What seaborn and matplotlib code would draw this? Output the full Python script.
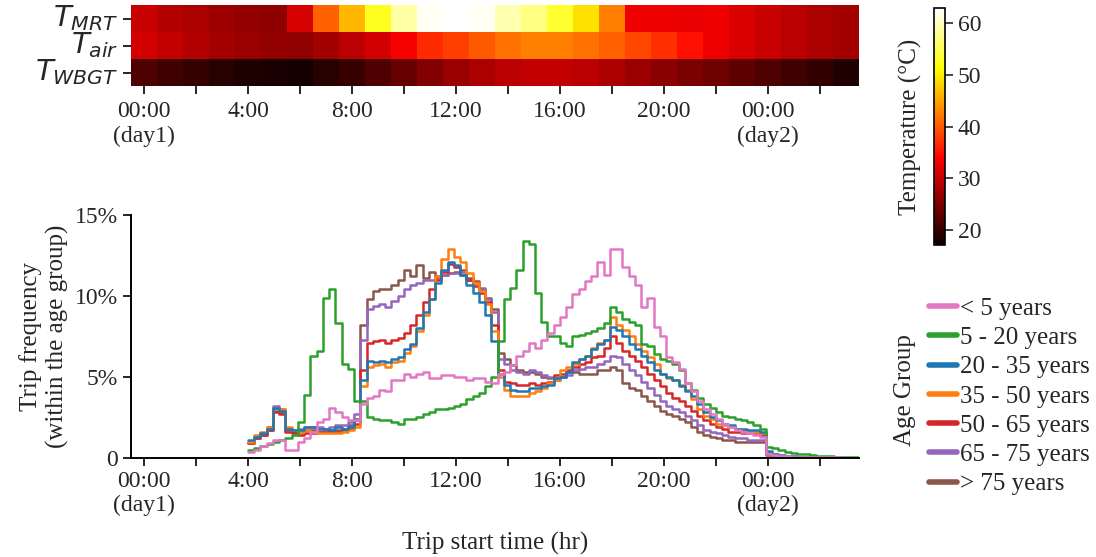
import numpy as np
import pandas as pd
import matplotlib
matplotlib.use("Agg")
import matplotlib.pyplot as plt
from matplotlib.lines import Line2D
import seaborn as sns

# ---------------- data ----------------
hours = list(range(28))
row_labels = [r"$T_{MRT}$", r"$T_{air}$", r"$T_{WBGT}$"]
t_mrt = [30.1, 28.6, 28.1, 27.1, 26.4, 26.1, 31.0, 40.4, 46.4, 52.7, 58.7, 62.3, 63.0, 62.3,
         59.4, 57.2, 53.5, 49.2, 42.5, 32.8, 32.8, 32.3, 32.8, 31.2, 30.1, 29.1, 28.1, 27.6]
t_air = [30.8, 29.6, 28.6, 27.6, 27.0, 26.4, 26.2, 27.6, 29.1, 30.8, 33.3, 36.6, 38.2, 39.9,
         41.5, 42.6, 42.6, 41.5, 40.4, 38.7, 37.1, 34.9, 32.8, 31.2, 30.1, 29.1, 28.1, 27.6]
t_wbgt = [21.7, 20.7, 19.9, 19.1, 18.3, 18.1, 17.8, 19.1, 20.2, 21.7, 23.3, 25.4, 27.0, 28.1,
          29.1, 29.6, 29.6, 29.1, 28.1, 27.0, 25.9, 24.9, 23.9, 22.8, 21.7, 20.7, 19.7, 18.5]
cbar_ticks = [20, 30, 40, 50, 60]

age_groups = ["< 5 years", "5 - 20 years", "20 - 35 years", "35 - 50 years",
              "50 - 65 years", "65 - 75 years", "> 75 years"]
colors = ["#e377c2", "#2ca02c", "#1f77b4", "#ff7f0e", "#d62728", "#9467bd", "#8c564b"]

bin_start, bin_end, n_bins = 4.0, 28.0, 100

# trip frequency (% per hour) in each bin, for each age group
pink = [
    0.35, 0.5, 0.7, 0.9, 1.1, 1.1, 0.45, 0.5, 1.0, 1.2,
    1.6, 2.2, 2.4, 3.1, 2.8, 2.5, 2.3, 2.3, 3.3, 3.7,
    3.8, 4.2, 4.1, 4.8, 4.8, 5.2, 5.0, 5.2, 5.3, 4.9,
    4.9, 5.1, 5.1, 5.0, 5.0, 4.8, 4.9, 4.9, 4.7, 4.6,
    5.2, 5.3, 5.7, 6.3, 6.6, 7.1, 6.8, 7.3, 7.7, 8.2,
    8.7, 9.3, 10.1, 10.4, 10.9, 11.2, 12.1, 11.3, 12.9, 12.9,
    11.8, 11.2, 10.7, 9.3, 9.9, 8.1, 7.5, 6.2, 5.9, 5.5,
    4.6, 4.1, 3.5, 3.0, 2.7, 2.4, 2.1, 1.9, 1.7, 1.6,
    1.5, 1.4, 1.3, 0.2, 0.15, 0.1, 0.08, 0.06, 0.05, 0.04,
    0.03, 0.03, 0.02, 0.02, 0.02, 0.01, 0.01, 0.01, 0.01, 0.0]
green = [
    0.45, 0.6, 0.7, 0.85, 1.0, 1.1, 1.2, 1.4, 2.2, 3.9,
    6.3, 6.6, 9.9, 10.4, 8.3, 5.8, 5.5, 3.5, 3.5, 2.5,
    2.4, 2.3, 2.3, 2.2, 2.1, 2.4, 2.4, 2.5, 2.7, 2.8,
    3.0, 3.0, 3.1, 3.2, 3.3, 3.6, 3.8, 4.0, 4.4, 5.0,
    7.2, 9.8, 10.5, 11.6, 13.4, 13.2, 10.2, 8.4, 7.5, 7.5,
    7.1, 6.9, 7.5, 7.6, 7.7, 7.8, 8.0, 8.3, 9.3, 9.0,
    8.6, 8.4, 8.2, 7.0, 6.9, 6.4, 6.1, 6.0, 5.8, 5.4,
    4.6, 4.2, 3.7, 3.3, 3.1, 2.8, 2.6, 2.5, 2.4, 2.3,
    2.2, 2.0, 1.8, 0.68, 0.6, 0.48, 0.35, 0.3, 0.23, 0.2,
    0.15, 0.12, 0.1, 0.08, 0.06, 0.05, 0.04, 0.03, 0.02, 0.01]
blue = [
    1.1, 1.3, 1.5, 1.8, 3.1, 2.9, 1.8, 1.7, 1.7, 1.9,
    1.9, 1.8, 1.8, 1.7, 1.9, 1.8, 1.9, 2.3, 4.8, 6.0,
    5.9, 6.0, 5.9, 6.1, 6.2, 6.7, 7.0, 8.0, 9.0, 9.8,
    10.8, 11.6, 12.1, 11.9, 11.3, 10.7, 10.2, 9.6, 8.8, 7.2,
    5.2, 4.5, 4.2, 4.1, 4.1, 4.3, 4.3, 4.4, 4.5, 4.9,
    5.0, 5.3, 5.9, 6.1, 6.3, 6.7, 7.0, 7.3, 8.1, 7.9,
    7.5, 7.0, 6.7, 6.3, 5.9, 5.4, 5.2, 5.0, 4.8, 4.4,
    4.1, 3.8, 3.3, 2.8, 2.5, 2.3, 2.1, 2.0, 1.8, 1.8,
    1.7, 1.7, 1.6, 0.4, 0.25, 0.18, 0.12, 0.08, 0.06, 0.05,
    0.04, 0.03, 0.02, 0.02, 0.01, 0.01, 0.01, 0.01, 0.0, 0.0]
orange = [
    1.0, 1.4, 1.6, 1.9, 3.0, 3.0, 1.9, 1.7, 1.6, 1.7,
    1.6, 1.5, 1.5, 1.5, 1.5, 1.6, 1.7, 1.9, 4.4, 5.6,
    5.7, 5.8, 5.6, 5.9, 6.0, 6.5, 6.9, 7.8, 8.8, 9.8,
    11.2, 12.3, 12.9, 12.4, 12.1, 11.4, 10.8, 10.3, 9.5, 7.8,
    5.0, 4.2, 3.8, 3.8, 3.8, 4.0, 4.1, 4.3, 4.6, 4.8,
    5.4, 5.6, 5.8, 6.1, 6.3, 6.8, 7.1, 7.3, 8.7, 8.2,
    7.9, 7.5, 7.0, 6.6, 6.2, 5.8, 5.2, 4.9, 4.8, 4.5,
    4.2, 3.6, 3.0, 2.6, 2.4, 2.1, 2.0, 1.9, 1.8, 1.7,
    1.6, 1.6, 1.5, 0.3, 0.2, 0.12, 0.08, 0.06, 0.04, 0.03,
    0.03, 0.02, 0.02, 0.01, 0.01, 0.01, 0.01, 0.0, 0.0, 0.0]
red = [
    0.9, 1.2, 1.4, 1.7, 2.8, 2.7, 1.6, 1.5, 1.4, 1.5,
    1.5, 1.6, 1.6, 1.6, 1.6, 1.7, 1.8, 2.1, 5.4, 7.1,
    7.2, 7.3, 7.1, 7.3, 7.4, 7.7, 8.2, 8.8, 9.6, 10.4,
    11.0, 11.5, 12.0, 11.8, 11.3, 11.0, 10.6, 10.2, 9.6, 8.2,
    5.4, 4.7, 4.6, 4.5, 4.5, 4.6, 4.5, 4.6, 4.7, 5.1,
    5.2, 5.4, 5.6, 5.8, 5.9, 6.2, 6.3, 6.8, 7.5, 7.1,
    6.6, 6.3, 6.0, 5.6, 5.2, 4.8, 4.4, 4.0, 3.7, 3.5,
    3.2, 2.9, 2.6, 2.3, 2.1, 1.9, 1.8, 1.6, 1.6, 1.5,
    1.5, 1.5, 1.4, 0.25, 0.15, 0.1, 0.07, 0.05, 0.04, 0.03,
    0.02, 0.02, 0.01, 0.01, 0.01, 0.01, 0.0, 0.0, 0.0, 0.0]
purple = [
    1.0, 1.3, 1.5, 1.9, 3.2, 3.0, 1.8, 1.7, 1.8, 1.9,
    1.9, 1.9, 1.8, 1.9, 2.0, 2.0, 2.2, 2.7, 7.3, 9.2,
    9.4, 9.5, 9.3, 9.7, 10.0, 10.4, 10.7, 10.8, 11.0, 11.0,
    11.1, 11.3, 11.4, 11.4, 11.5, 11.0, 10.8, 10.5, 9.8, 9.0,
    6.1, 5.8, 5.4, 5.3, 5.2, 5.4, 5.3, 5.1, 5.0, 4.9,
    5.0, 5.1, 5.4, 5.5, 5.6, 5.6, 5.8, 6.0, 6.3, 6.2,
    5.8, 5.4, 5.1, 4.7, 4.3, 3.9, 3.5, 3.2, 3.0, 2.8,
    2.6, 2.3, 2.0, 1.7, 1.6, 1.5, 1.4, 1.3, 1.2, 1.2,
    1.1, 1.1, 1.1, 0.2, 0.12, 0.08, 0.06, 0.04, 0.03, 0.03,
    0.02, 0.02, 0.01, 0.01, 0.01, 0.0, 0.0, 0.0, 0.0, 0.0]
brown = [
    0.9, 1.2, 1.4, 1.7, 2.9, 2.8, 1.7, 1.6, 1.6, 1.7,
    1.7, 1.6, 1.6, 1.7, 1.7, 1.8, 2.0, 2.4, 8.2, 9.8,
    10.3, 10.4, 10.4, 10.7, 11.0, 11.6, 11.2, 11.9, 11.1, 11.5,
    11.2, 11.3, 11.4, 11.5, 11.6, 11.1, 10.9, 10.4, 9.9, 9.2,
    6.5, 6.1, 5.7, 5.4, 5.3, 5.3, 5.2, 5.0, 4.9, 4.8,
    5.0, 5.3, 5.3, 5.2, 5.2, 5.2, 5.4, 5.4, 5.6, 5.4,
    4.6, 4.3, 4.2, 3.8, 3.5, 3.2, 2.9, 2.7, 2.6, 2.4,
    2.2, 1.9, 1.6, 1.4, 1.3, 1.2, 1.1, 1.1, 1.0, 1.0,
    1.0, 0.95, 0.95, 0.15, 0.1, 0.07, 0.05, 0.04, 0.03, 0.02,
    0.02, 0.01, 0.01, 0.01, 0.0, 0.0, 0.0, 0.0, 0.0, 0.0]
series = [pink, green, blue, orange, red, purple, brown]

tick_hours = list(range(0, 28, 2))
tick_labels = ["00:00\n(day1)", "", "4:00", "", "8:00", "", "12:00", "", "16:00", "",
               "20:00", "", "00:00\n(day2)", ""]
y_ticks = [0, 5, 10, 15]
y_tick_labels = ["0", "5%", "10%", "15%"]

# ---------------- style ----------------
sns.set_style("ticks")
plt.rcParams["font.family"] = ["Liberation Serif", "DejaVu Serif"]
plt.rcParams["mathtext.fontset"] = "dejavusans"

TICK_FS = 17
LABEL_FS = 18

fig = plt.figure(figsize=(10.96, 5.57), dpi=100)
ax_h = fig.add_axes([0.1195, 0.8456, 0.6642, 0.1454])
cax = fig.add_axes([0.8518, 0.5601, 0.0101, 0.4255])
ax = fig.add_axes([0.1195, 0.1783, 0.6642, 0.4357])

# ---------------- heatmap ----------------
heat = pd.DataFrame([t_mrt, t_air, t_wbgt], index=row_labels, columns=hours)
sns.heatmap(heat, ax=ax_h, cmap="hot", vmin=17, vmax=63, cbar_ax=cax,
            cbar_kws={"ticks": cbar_ticks})
ax_h.set_xticks([h + 0.5 for h in tick_hours])
ax_h.set_xticklabels(tick_labels, rotation=0, fontsize=TICK_FS)
ax_h.set_yticks([0.5, 1.5, 2.5])
ax_h.set_yticklabels(row_labels, rotation=0, fontsize=21)
ax_h.tick_params(axis="both", length=6, width=1.2, color="black", pad=3)
ax_h.tick_params(axis="x", pad=5)
ax_h.set_xlabel("")
ax_h.set_ylabel("")

cb = ax_h.collections[0].colorbar
cb.outline.set_linewidth(1.2)
cb.outline.set_edgecolor("black")
cb.ax.tick_params(labelsize=TICK_FS, length=6, width=1.2)
cb.ax.yaxis.set_label_position("left")
cb.set_label("Temperature (°C)", fontsize=LABEL_FS, labelpad=8)

# ---------------- histograms ----------------
edges = np.linspace(bin_start, bin_end, n_bins + 1)
centers = (edges[:-1] + edges[1:]) / 2
for i in [6, 5, 4, 3, 2, 1, 0]:
    df = pd.DataFrame({"hour": centers, "freq": series[i]})
    sns.histplot(data=df, x="hour", weights="freq", bins=n_bins,
                 binrange=(bin_start, bin_end), element="step", fill=False,
                 color=colors[i], linewidth=1.8, ax=ax)

ax.set_xlim(-0.5, 27.5)
ax.set_ylim(0, 15)
ax.set_xticks(tick_hours)
ax.set_xticklabels(tick_labels, fontsize=TICK_FS)
ax.set_yticks(y_ticks)
ax.set_yticklabels(y_tick_labels, fontsize=TICK_FS)
ax.tick_params(axis="both", length=6, width=1.2, color="black")
for s in ["left", "bottom"]:
    ax.spines[s].set_linewidth(1.4)
    ax.spines[s].set_color("black")
sns.despine(ax=ax)
ax.set_xlabel("Trip start time (hr)", fontsize=LABEL_FS, labelpad=11)
ax.set_ylabel("Trip frequency\n(within the age group)", fontsize=LABEL_FS)

handles = [Line2D([0], [0], color=c, lw=4) for c in colors]
fig.legend(handles, age_groups, loc="upper left", bbox_to_anchor=(0.8476, 0.466),
           frameon=False, fontsize=18, handlelength=1.14, handletextpad=0.1,
           labelspacing=0.27, borderpad=0, borderaxespad=0)
fig.text(0.826, 0.30, "Age Group", rotation=90, ha="center", va="center", fontsize=18)

fig.savefig("out.png", dpi=100)
